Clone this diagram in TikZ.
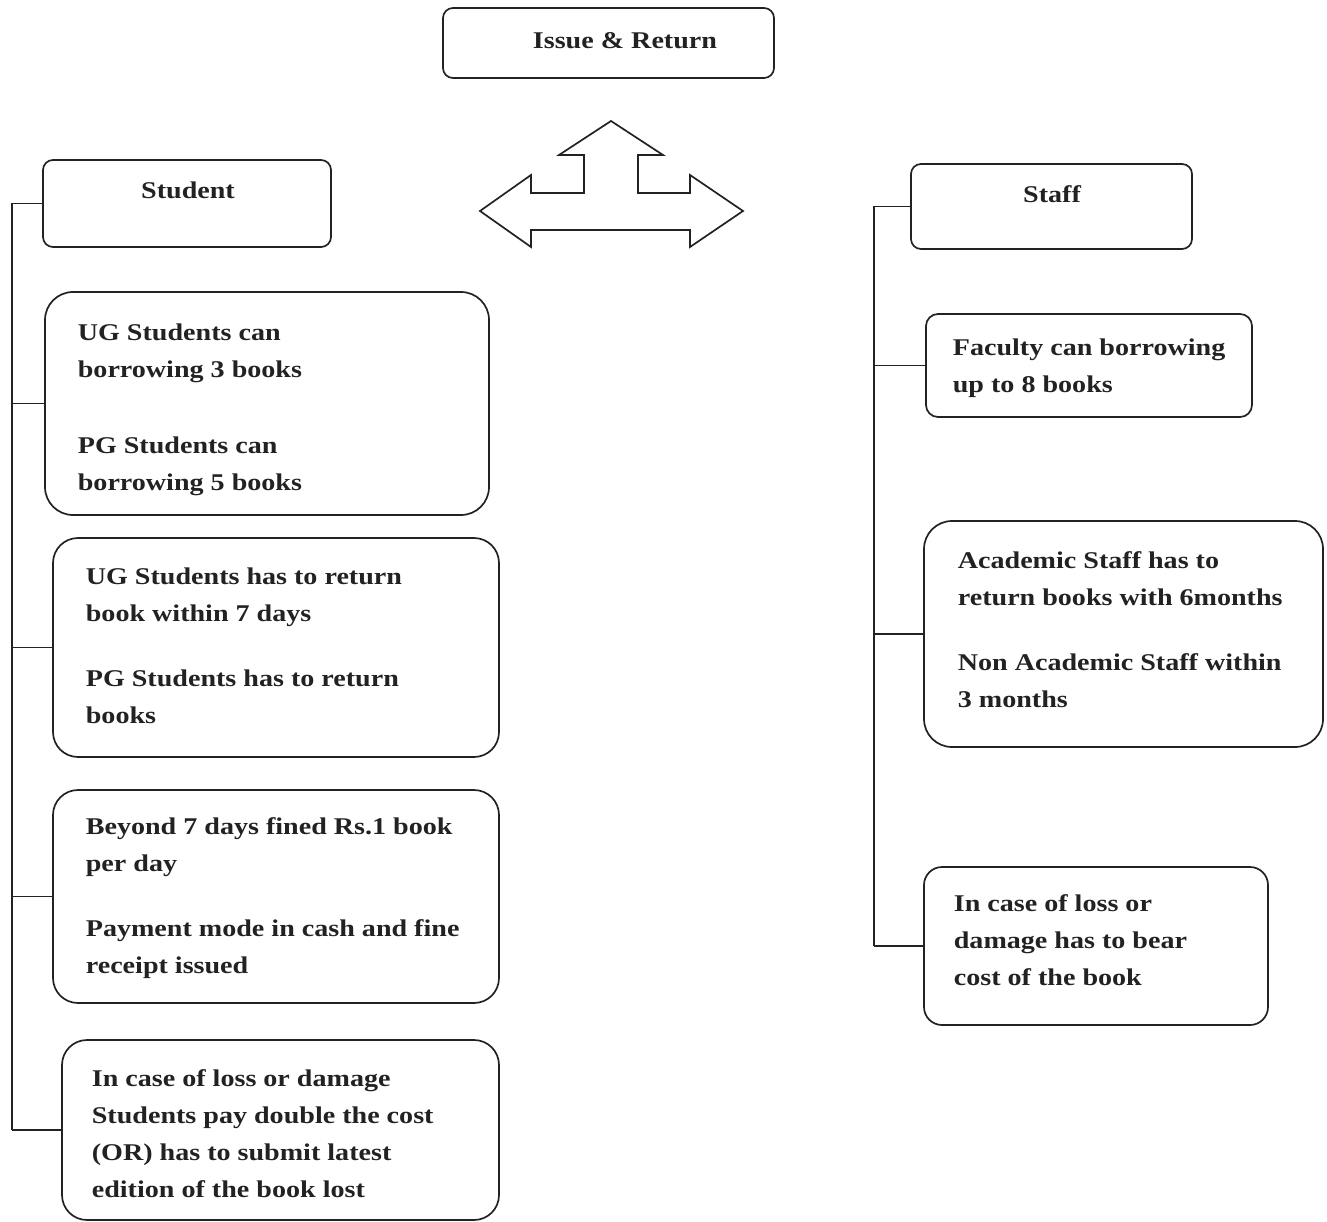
\documentclass[tikz,border=0pt]{standalone}
\usepackage{fontspec}
\setmainfont{Liberation Serif}[FakeStretch=1.17]
\definecolor{ink}{HTML}{222222}

\begin{document}
\begin{tikzpicture}[x=1pt, y=-1pt, line width=1.7pt,
	box/.style={draw=ink, rounded corners=#1, inner sep=0pt},
	box/.default=10pt,
	txt/.style={inner sep=0pt, align=left, text=ink,
		font=\fontsize{24}{37}\selectfont\bfseries}]
\useasboundingbox (0,0) rectangle (1327,1222);

% top
\node[box, minimum width=331pt, minimum height=70pt] (issue) at (608.5,43) {};
\node[txt, anchor=base] (issuetxt) at (625,49) {Issue \& Return};

% three-way arrow
\draw[ink] (611,121) -- (663,155) -- (638,155) -- (638,193) -- (690,193)
	-- (690,175) -- (743,211) -- (690,247) -- (690,230) -- (531,230)
	-- (531,247) -- (480,211) -- (531,175) -- (531,193) -- (584,193)
	-- (584,155) -- (559,155) -- cycle;

% student side (text nodes sit on the baseline of their last line)
\node[box, minimum width=288pt, minimum height=87pt] (student) at (187,203.5) {};
\node[txt, anchor=base] (studenttxt) at (188,199) {Student};
\node[box=28pt, minimum width=444pt, minimum height=223pt] (borrow) at (267,403.5) {};
\node[txt, anchor=base west] (borrowtxt) at (77,490)
	{UG Students can\\borrowing 3 books\\[39pt]PG Students can\\borrowing 5 books};
\node[box=25pt, minimum width=446pt, minimum height=219pt] (return) at (276,647.5) {};
\node[txt, anchor=base west] (returntxt) at (85,723)
	{UG Students has to return\\book within 7 days\\[28pt]PG Students has to return\\books};
\node[box=25pt, minimum width=446pt, minimum height=213pt] (fine) at (276,896.5) {};
\node[txt, anchor=base west] (finetxt) at (85,973)
	{Beyond 7 days fined Rs.1 book\\per day\\[28pt]Payment mode in cash and fine\\receipt issued};
\node[box=25pt, minimum width=437pt, minimum height=180pt] (loss) at (280.5,1130) {};
\node[txt, anchor=base west] (losstxt) at (91,1197)
	{In case of loss or damage\\Students pay double the cost\\(OR) has to submit latest\\edition of the book lost};

\coordinate (lbar) at (12,0);
\draw[ink] (student.west -| lbar) -- (loss.west -| lbar);
\draw[ink] (student.west) -- (student.west -| lbar);
\draw[ink] (borrow.west) -- (borrow.west -| lbar);
\draw[ink] (return.west) -- (return.west -| lbar);
\draw[ink] (fine.west) -- (fine.west -| lbar);
\draw[ink] (loss.west) -- (loss.west -| lbar);

% staff side
\node[box, minimum width=281pt, minimum height=85pt] (staff) at (1051.5,206.5) {};
\node[txt, anchor=base] (stafftxt) at (1052,203) {Staff};
\node[box=12pt, minimum width=326pt, minimum height=103pt] (faculty) at (1089,365.5) {};
\node[txt, anchor=base west] (facultytxt) at (952,392)
	{Faculty can borrowing\\up to 8 books};
\node[box=28pt, minimum width=399pt, minimum height=226pt] (period) at (1123.5,634) {};
\node[txt, anchor=base west] (periodtxt) at (957,707)
	{Academic Staff has to\\return books with 6months\\[28pt]Non Academic Staff within\\3 months};
\node[box=18pt, minimum width=344pt, minimum height=158pt] (cost) at (1096,946) {};
\node[txt, anchor=base west] (costtxt) at (953,985)
	{In case of loss or\\damage has to bear\\cost of the book};

\coordinate (rbar) at (874,0);
\draw[ink] (staff.west -| rbar) -- (cost.west -| rbar);
\draw[ink] (staff.west) -- (staff.west -| rbar);
\draw[ink] (faculty.west) -- (faculty.west -| rbar);
\draw[ink] (period.west) -- (period.west -| rbar);
\draw[ink] (cost.west) -- (cost.west -| rbar);
\end{tikzpicture}
\end{document}
